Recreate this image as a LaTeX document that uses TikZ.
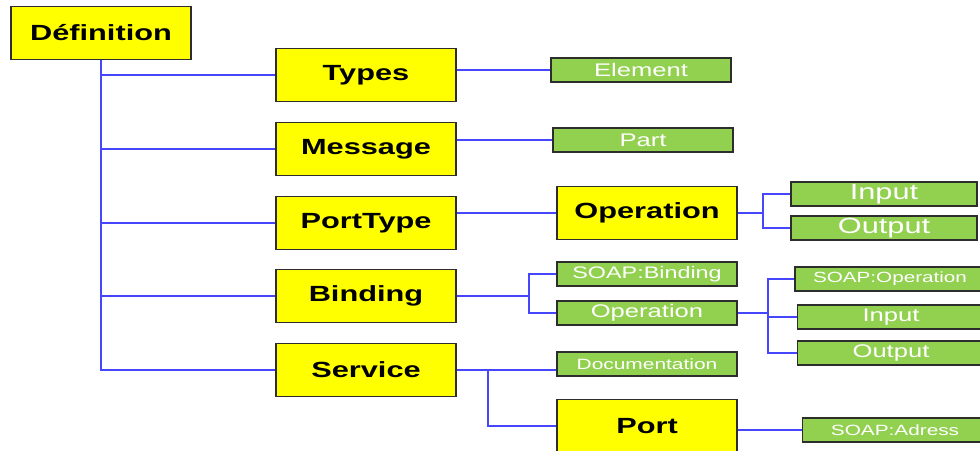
\documentclass[tikz,border=0pt]{standalone}
\usepackage{fontspec}
\setmainfont[FakeStretch=1.4]{Liberation Sans}
\usepackage{tikz}
\definecolor{boxyellow}{RGB}{255,255,0}
\definecolor{boxgreen}{RGB}{146,208,80}
\definecolor{linkblue}{RGB}{70,70,255}
\definecolor{edgegray}{RGB}{45,45,45}
\tikzstyle{main} = [draw=edgegray, line width=0.9pt, fill=boxyellow, inner sep=0pt, minimum width=3.6cm, minimum height=1.06cm, font=\fontsize{12.5}{14}\selectfont\bfseries]
\tikzstyle{sub} = [draw=edgegray, line width=0.9pt, fill=boxgreen, text=white, inner sep=0pt, minimum width=3.6cm, minimum height=0.48cm, font=\fontsize{10.4}{12}\selectfont]
\tikzstyle{line} = [draw, linkblue, line width=0.9pt]

\begin{document}
\begin{tikzpicture}[x=0.02cm, y=-0.02cm]
  \useasboundingbox (0,0) rectangle (980,450);

  % yellow boxes
  \node[main] (def) at (101,33) {Définition};
  \node[main] (types) at (366,75) {Types};
  \node[main] (message) at (366,149) {Message};
  \node[main] (porttype) at (366,223) {PortType};
  \node[main] (binding) at (366,296) {Binding};
  \node[main] (service) at (366,370) {Service};
  \node[main] (op) at (647,213) {Operation};
  \node[main] (port) at (647,426) {Port};

  % green boxes
  \node[sub] (elem) at (641,70) {Element};
  \node[sub] (part) at (643,140) {Part};
  \node[sub, minimum width=3.72cm, font=\fontsize{12.5}{14}\selectfont] (in1) at (884,194) {Input};
  \node[sub, minimum width=3.72cm, font=\fontsize{12.5}{14}\selectfont] (out1) at (884,228) {Output};
  \node[sub, font=\fontsize{9.5}{11}\selectfont] (soapb) at (647,274) {SOAP:Binding};
  \node[sub] (bop) at (647,313) {Operation};
  \node[sub, minimum width=3.8cm, font=\fontsize{8.4}{10}\selectfont] (soapop) at (890,279) {SOAP:Operation};
  \node[sub, minimum width=3.74cm] (in2) at (891,317) {Input};
  \node[sub, minimum width=3.74cm] (out2) at (891,353) {Output};
  \node[sub, font=\fontsize{8.5}{10}\selectfont] (doc) at (647,364) {Documentation};
  \node[sub, minimum width=3.7cm, font=\fontsize{8.45}{10}\selectfont] (addr) at (895,430) {SOAP:Adress};

  % trunk from Definition
  \draw[line] (def.south) |- (types.west);
  \draw[line] (def.south) |- (message.west);
  \draw[line] (def.south) |- (porttype.west);
  \draw[line] (def.south) |- (binding.west);
  \draw[line] (def.south) |- (service.west);

  \draw[line] (types.east |- elem.west) -- (elem.west);
  \draw[line] (message.east |- part.west) -- (part.west);
  \draw[line] (porttype.east |- op.west) -- (op.west);

  % forks
  \coordinate (opfork) at (763,213);
  \draw[line] (op.east) -- (opfork);
  \draw[line] (opfork) |- (in1.west);
  \draw[line] (opfork) |- (out1.west);

  \coordinate (bfork) at (529,296);
  \draw[line] (binding.east) -- (bfork);
  \draw[line] (bfork) |- (soapb.west);
  \draw[line] (bfork) |- (bop.west);

  \coordinate (bopfork) at (768,313);
  \draw[line] (bop.east) -- (bopfork);
  \draw[line] (bopfork) |- (soapop.west);
  \draw[line] (bopfork) |- (in2.west);
  \draw[line] (bopfork) |- (out2.west);

  \coordinate (sfork) at (488,370);
  \draw[line] (service.east) -- (service.east -| doc.west);
  \draw[line] (sfork) |- (port.west);
  \draw[line] (port.east |- addr.west) -- (addr.west);
\end{tikzpicture}
\end{document}
